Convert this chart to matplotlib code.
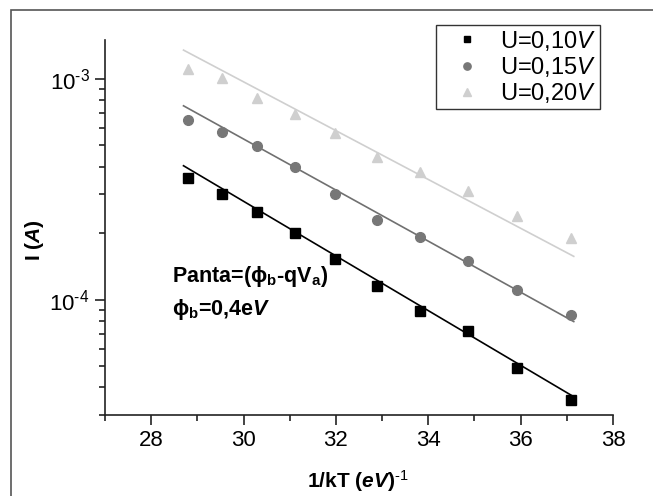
import numpy as np
import matplotlib.pyplot as plt
from matplotlib.patches import Rectangle

plt.rcParams['font.family'] = ['Liberation Sans', 'DejaVu Sans']
plt.rcParams['mathtext.fontset'] = 'custom'
plt.rcParams['mathtext.rm'] = 'Liberation Sans'
plt.rcParams['mathtext.it'] = 'Liberation Sans:italic'
plt.rcParams['mathtext.bf'] = 'Liberation Sans:bold'
plt.rcParams['mathtext.bfit'] = 'Liberation Sans:italic:bold'

# 1/kT values (eV^-1)
inv_kT = [28.80, 29.53, 30.30, 31.11, 31.97, 32.88, 33.83, 34.85, 35.93, 37.08]

# measured current (A)
I_010 = [3.57e-4, 3.02e-4, 2.50e-4, 2.00e-4, 1.52e-4, 1.15e-4, 8.9e-5, 7.2e-5, 4.9e-5, 3.5e-5]
I_015 = [6.5e-4, 5.75e-4, 4.98e-4, 4.0e-4, 3.0e-4, 2.3e-4, 1.93e-4, 1.5e-4, 1.1e-4, 8.55e-5]
I_020 = [1.11e-3, 1.01e-3, 8.2e-4, 6.95e-4, 5.7e-4, 4.44e-4, 3.8e-4, 3.1e-4, 2.38e-4, 1.91e-4]

# fitted lines (end points)
fit_x = [28.70, 37.15]
fit_010 = [4.04e-4, 3.63e-5]
fit_015 = [7.55e-4, 7.95e-5]
fit_020 = [1.35e-3, 1.57e-4]

labels = ['U=0,10$\\mathit{V}$', 'U=0,15$\\mathit{V}$', 'U=0,20$\\mathit{V}$']

fig = plt.figure(figsize=(6.53, 4.96), dpi=100)
ax = fig.add_axes([105/653, 1 - 415/496, 508/653, 375/496])

# outer frame
fig.add_artist(Rectangle((11/653, -0.2), 2, 1.2 - 10/496, transform=fig.transFigure,
                         fill=False, edgecolor='#555555', linewidth=1.2))

ax.plot(fit_x, fit_010, color='black', lw=1.2, zorder=2)
ax.plot(fit_x, fit_015, color='#707070', lw=1.2, zorder=2)
ax.plot(fit_x, fit_020, color='#cfcfcf', lw=1.2, zorder=2)

ax.plot(inv_kT, I_010, 's', color='black', ms=6.5, ls='none', label=labels[0], zorder=3)
ax.plot(inv_kT, I_015, 'o', color='#777777', ms=7, ls='none', label=labels[1], zorder=3)
ax.plot(inv_kT, I_020, '^', color='#cfcfcf', ms=7.5, ls='none', label=labels[2], zorder=3)

ax.set_yscale('log')
ax.set_xlim(27, 38)
ax.set_ylim(3.0e-5, 1.5e-3)
ax.set_xticks([28, 30, 32, 34, 36, 38])
ax.set_xticks([27, 29, 31, 33, 35, 37], minor=True)
ax.set_yticks([1e-4, 1e-3])
ax.set_yticklabels(['10$^{\\text{-4}}$', '10$^{\\text{-3}}$'])

for s in ['top', 'right']:
    ax.spines[s].set_visible(False)
for s in ['left', 'bottom']:
    ax.spines[s].set_linewidth(1.2)
    ax.spines[s].set_color('#222222')

ax.tick_params(which='major', length=7, width=1.2, labelsize=16, color='#222222', pad=4)
ax.tick_params(which='minor', length=4.5, width=1.2, color='#222222')

ax.set_xlabel('1/kT ($\\mathbfit{eV}$)$^{\\mathbf{\\text{-1}}}$', fontsize=15, fontweight='bold')
ax.set_ylabel('I ($\\mathbfit{A}$)', fontsize=15, fontweight='bold')
ax.xaxis.set_label_coords(0.498, (415 - 481) / 375)
ax.yaxis.set_label_coords((35 - 105) / 508, 0.467)
ax.xaxis.label.set_va('center')
ax.yaxis.label.set_va('center')

ax.text(0.132, 0.355, 'Panta=($\\mathbf{\\phi_b}$-qV$_\\mathbf{a}$)', transform=ax.transAxes,
        fontsize=15.5, fontweight='bold')
ax.text(0.132, 0.267, '$\\mathbf{\\phi_b}$=0,4e$\\mathbfit{V}$', transform=ax.transAxes,
        fontsize=15.5, fontweight='bold')

leg = ax.legend(loc='upper right', bbox_to_anchor=(0.974, 1.04), fontsize=17,
                frameon=True, fancybox=False, edgecolor='black', handlelength=2.3,
                handletextpad=0.25, borderpad=0.15, labelspacing=0.1, markerscale=0.75,
                borderaxespad=0)
leg.get_frame().set_linewidth(1.0)

fig.savefig('out.png', dpi=100)
